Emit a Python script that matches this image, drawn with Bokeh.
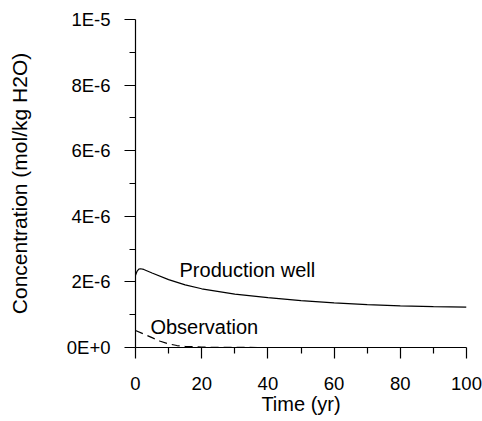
from bokeh.plotting import figure
from bokeh.models import Range1d, FixedTicker, ColumnDataSource
from bokeh.core.properties import value
from bokeh.embed import file_html
from bokeh.resources import INLINE

# Data
time_prod = [0, 0.5, 1, 1.5, 2.5, 5, 10, 15, 20, 30, 40, 50, 60, 70, 80, 90, 100]
conc_prod = [2.2e-6, 2.33e-6, 2.39e-6, 2.40e-6, 2.38e-6, 2.27e-6, 2.07e-6, 1.91e-6, 1.79e-6,
             1.63e-6, 1.52e-6, 1.43e-6, 1.36e-6, 1.31e-6, 1.27e-6, 1.245e-6, 1.23e-6]
time_obs = [0, 2.5, 5, 7.5, 10, 12.5, 15, 20, 25, 30, 40, 60, 80, 100]
conc_obs = [5.2e-7, 4.1e-7, 3.0e-7, 1.9e-7, 1.1e-7, 6e-8, 3.5e-8, 1e-8, 4e-9, 2e-9, 0, 0, 0, 0]

x_ticks = [0, 20, 40, 60, 80, 100]
y_ticks = [0, 2e-6, 4e-6, 6e-6, 8e-6, 1e-5]
y_tick_labels = ["0E+0", "2E-6", "4E-6", "6E-6", "8E-6", "1E-5"]

labels = ["Production well", "Observation"]
label_x = [13.3, 4.5]
label_y = [2.35e-6, 0.64e-6]

FONT = "Liberation Sans"

p = figure(width=482, height=421, output_backend="svg", toolbar_location=None,
           x_range=Range1d(0, 100), y_range=Range1d(0, 1e-5),
           min_border_left=135, min_border_right=16, min_border_top=19, min_border_bottom=74)
p.outline_line_color = None
p.xgrid.visible = False
p.ygrid.visible = False
p.background_fill_color = "white"
p.border_fill_color = "white"

p.line(time_prod, conc_prod, line_color="black", line_width=1.2)
p.line(time_obs, conc_obs, line_color="black", line_width=1.2, line_dash="8 5")

src = ColumnDataSource(dict(x=label_x, y=label_y, t=labels))
p.text(x="x", y="y", text="t", source=src, text_font=value(FONT), text_font_size="20px",
       text_baseline="middle", text_align="left", text_color="black")

for ax in (p.xaxis[0], p.yaxis[0]):
    ax.axis_line_color = "black"
    ax.axis_line_width = 1.2
    ax.major_tick_in = 0
    ax.major_tick_out = 11
    ax.minor_tick_in = 0
    ax.minor_tick_out = 6
    ax.major_tick_line_width = 1.2
    ax.minor_tick_line_width = 1.2
    ax.major_label_text_font = FONT
    ax.major_label_text_font_size = "18.5px"
    ax.major_label_text_color = "black"
    ax.axis_label_text_font = FONT
    ax.axis_label_text_font_style = "normal"
    ax.axis_label_text_color = "black"

p.xaxis[0].ticker = FixedTicker(ticks=x_ticks, minor_ticks=[10, 30, 50, 70, 90])
p.yaxis[0].ticker = FixedTicker(ticks=y_ticks, minor_ticks=[1e-6, 3e-6, 5e-6, 7e-6, 9e-6])
p.yaxis[0].major_label_overrides = {t: l for t, l in zip(y_ticks, y_tick_labels)}
p.xaxis[0].axis_label = "Time (yr)"
p.yaxis[0].axis_label = "Concentration (mol/kg H2O)"
p.xaxis[0].axis_label_text_font_size = "20px"
p.yaxis[0].axis_label_text_font_size = "21px"
p.xaxis[0].major_label_standoff = 18
p.yaxis[0].major_label_standoff = 14
p.xaxis[0].axis_label_standoff = 0
p.yaxis[0].axis_label_standoff = 33

open("out.html", "w").write(file_html(p, INLINE))
